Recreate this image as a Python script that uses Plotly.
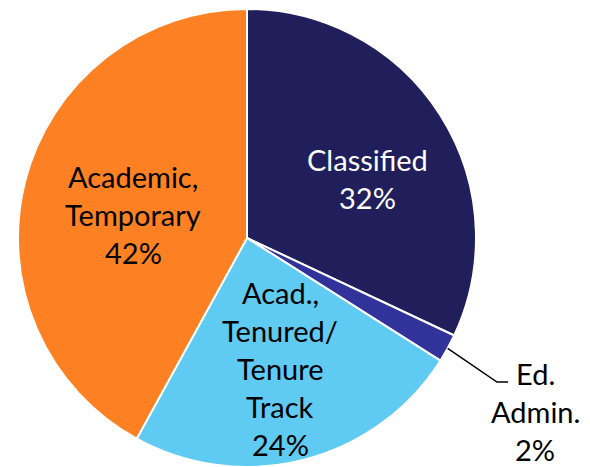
import math
import plotly.graph_objects as go

# Staff composition by employee group
categories = ["Classified", "Ed. Admin.", "Acad., Tenured/Tenure Track", "Academic, Temporary"]
shares = [32, 2, 24, 42]
label_lines = [
    ["Classified"],
    ["Ed.", "Admin."],
    ["Acad.,", "Tenured/", "Tenure", "Track"],
    ["Academic,", "Temporary"],
]

colors = ["#201F5B", "#31329A", "#5FCBF2", "#FD8122"]
text_colors = ["#FFFFFF", "#000000", "#000000", "#000000"]

# Canvas and pie geometry (pixels, measured from the top-left corner)
W, H = 590, 467
CX, CY, R = 247, 238, 229

dom_x = [(CX - R) / W, (CX + R) / W]
dom_y = [max(0.0, (H - CY - R) / H), min(1.0, (H - CY + R) / H)]

# Label block centres (pixels) and the leader-line elbow for the small slice
label_centres = {
    "Classified": (367, 178),
    "Ed. Admin.": (535, 411),
    "Acad., Tenured/Tenure Track": (280, 368),
    "Academic, Temporary": (133, 215),
}
leader_elbow = (497, 382)
leader_end = (508, 382)

FONT = "Lato, Calibri, Carlito, sans-serif"
FONT_SIZE = 29
LINE_PITCH = 38


def px_to_paper(x, y):
    return x / W, 1 - y / H


fig = go.Figure(
    go.Pie(
        labels=categories,
        values=shares,
        sort=False,
        direction="clockwise",
        rotation=0,
        marker=dict(colors=colors, line=dict(color="#FFFFFF", width=2)),
        textinfo="none",
        hoverinfo="label+percent",
        showlegend=False,
        domain=dict(x=dom_x, y=dom_y),
    )
)

total = sum(shares)
annotations = []
for cat, val, lines, tc in zip(categories, shares, label_lines, text_colors):
    pct = round(val / total * 100)
    all_lines = lines + [f"{pct}%"]
    n = len(all_lines)
    ax, ay = px_to_paper(*label_centres[cat])
    for i, line in enumerate(all_lines):
        annotations.append(
            dict(
                x=ax,
                y=ay,
                xref="paper",
                yref="paper",
                text=line,
                showarrow=False,
                xanchor="center",
                yanchor="middle",
                yshift=-(i - (n - 1) / 2) * LINE_PITCH,
                font=dict(family=FONT, size=FONT_SIZE, color=tc),
            )
        )

# Leader line for the Ed. Admin. slice, starting at its mid-angle on the rim
start_deg = sum(shares[:1]) / total * 360
mid_deg = start_deg + shares[1] / total * 360 / 2
theta = math.radians(mid_deg)
sx = CX + R * math.sin(theta)
sy = CY - R * math.cos(theta)

pts = [px_to_paper(sx, sy), px_to_paper(*leader_elbow), px_to_paper(*leader_end)]
path = "M {} {} L {} {} L {} {}".format(*[c for p in pts for c in p])

fig.update_layout(
    width=W,
    height=H,
    margin=dict(l=0, r=0, t=0, b=0),
    paper_bgcolor="#FFFFFF",
    plot_bgcolor="#FFFFFF",
    annotations=annotations,
    shapes=[
        dict(
            type="path",
            path=path,
            xref="paper",
            yref="paper",
            line=dict(color="#000000", width=1.5),
        )
    ],
)

fig.write_html("out.html")
